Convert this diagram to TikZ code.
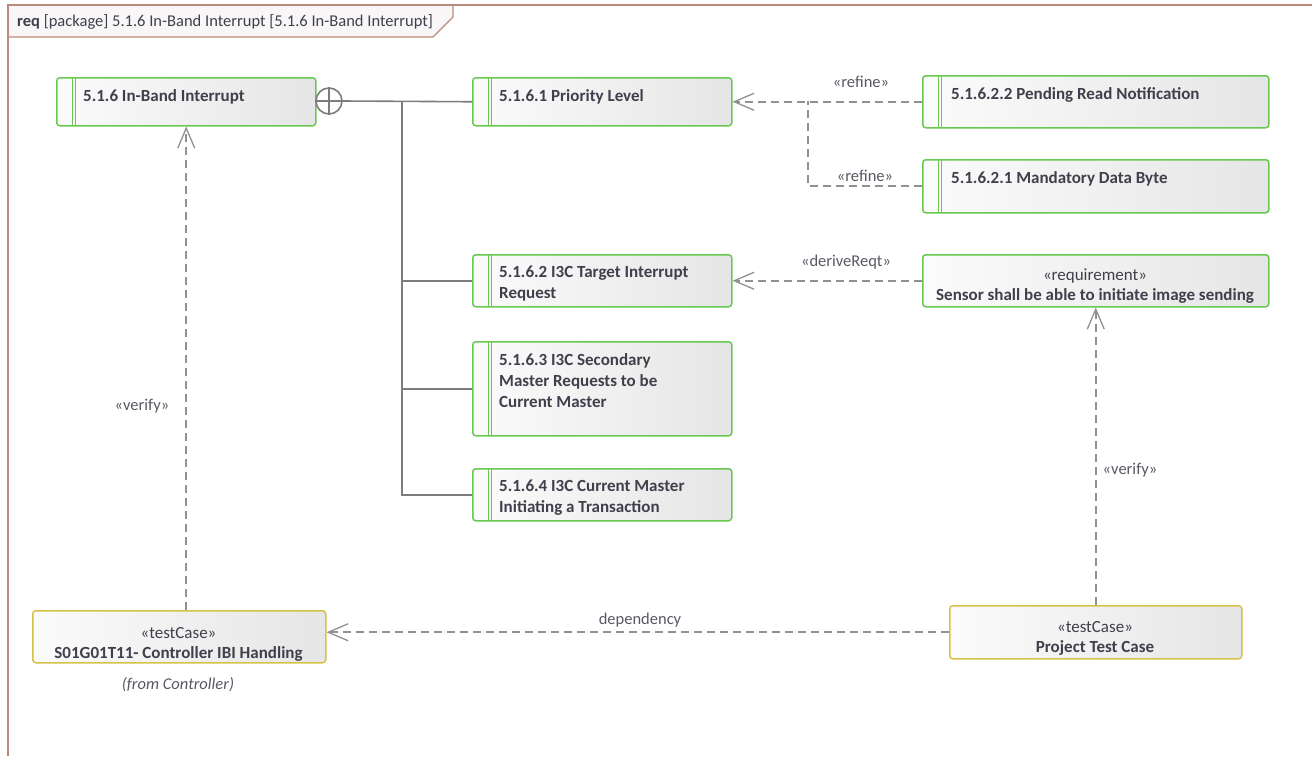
\documentclass[tikz,border=0pt]{standalone}
\usepackage{fontspec}
\setmainfont{Carlito}
\usetikzlibrary{arrows.meta,calc}

\definecolor{reqgreen}{RGB}{104,200,80}
\definecolor{tcyellow}{RGB}{214,194,72}
\definecolor{ink}{RGB}{64,64,76}
\definecolor{lbl}{RGB}{88,88,98}
\definecolor{wire}{RGB}{125,125,125}
\definecolor{dashc}{RGB}{145,145,145}
\definecolor{framec}{RGB}{188,138,122}
\definecolor{tabfill}{RGB}{248,246,246}

\tikzset{
  box/.style={draw, line width=1.5pt, rounded corners=3pt,
    left color=gray!3, right color=gray!20, inner sep=0pt, anchor=north west},
  reqbar/.style={path picture={
      \draw[reqgreen, line width=1.2pt]
        ([xshift=16pt]path picture bounding box.north west) --
        ([xshift=16pt]path picture bounding box.south west);
      \draw[reqgreen, line width=1.2pt]
        ([xshift=19pt]path picture bounding box.north west) --
        ([xshift=19pt]path picture bounding box.south west);}},
  reqbox/.style={box, draw=reqgreen, reqbar},
  plainreq/.style={box, draw=reqgreen},
  tcbox/.style={box, draw=tcyellow},
  % multi-line texts are placed by the baseline of their last line
  title/.style={anchor=base west, inner sep=0pt, align=left, text=ink,
    font=\fontsize{17}{21}\selectfont\bfseries},
  ctitle/.style={anchor=base, inner sep=0pt, align=center, text=ink,
    font=\fontsize{17}{20}\selectfont},
  lab/.style={inner sep=0pt, text=lbl, font=\fontsize{16.5}{20}\selectfont},
  comp/.style={draw=wire, line width=1.6pt},
  dashline/.style={draw=dashc, line width=1.6pt, dash pattern=on 8pt off 5pt},
  dep/.style={dashline, -{Straight Barb[length=20pt,width=17pt,line width=1.3pt]}},
}

\begin{document}
\begin{tikzpicture}[x=1pt,y=-1pt]
\useasboundingbox (0,0) rectangle (1312,756);

% diagram frame with its name tab
\draw[framec, line width=1.2pt, fill=tabfill]
  (8,5) -- (8,37) -- (433,37) -- (453,17) -- (453,5) -- cycle;
\draw[framec, line width=1.6pt] (8,756) -- (8,5) -- (1312,5);
\node[anchor=base west, inner sep=0pt, text=ink, font=\fontsize{16.5}{20}\selectfont]
  (hdr) at (17,26) {\textbf{req} [package] 5.1.6 In-Band Interrupt [5.1.6 In-Band Interrupt]};

% requirements
\node[reqbox, minimum width=259pt, minimum height=48pt] (n1) at (56,77) {};
\node[title] (t1) at (83,101) {5.1.6 In-Band Interrupt};

\node[reqbox, minimum width=259pt, minimum height=48pt] (n2) at (472,77) {};
\node[title] (t2) at (499,101) {5.1.6.1 Priority Level};

\node[reqbox, minimum width=346pt, minimum height=52pt] (n3) at (922,75) {};
\node[title] (t3) at (951,99) {5.1.6.2.2 Pending Read Notification};

\node[reqbox, minimum width=346pt, minimum height=53pt] (n4) at (922,159) {};
\node[title] (t4) at (951,183) {5.1.6.2.1 Mandatory Data Byte};

\node[reqbox, minimum width=259pt, minimum height=52pt] (n5) at (472,254) {};
\node[title] (t5) at (499,298) {5.1.6.2 I3C Target Interrupt\\Request};

\node[reqbox, minimum width=259pt, minimum height=94pt] (n6) at (472,341) {};
\node[title] (t6) at (499,407) {5.1.6.3 I3C Secondary\\Master Requests to be\\Current Master};

\node[reqbox, minimum width=259pt, minimum height=52pt] (n7) at (472,468) {};
\node[title] (t7) at (499,512) {5.1.6.4 I3C Current Master\\Initiating a Transaction};

\node[plainreq, minimum width=346pt, minimum height=52pt] (n8) at (922,254) {};
\node[ctitle] (t8) at (1095,300) {«requirement»\\\textbf{Sensor shall be able to initiate image sending}};

% test cases
\node[tcbox, minimum width=293pt, minimum height=52pt] (n9) at (32,610) {};
\node[ctitle] (t9) at (178.5,658) {«testCase»\\\textbf{S01G01T11- Controller IBI Handling}};
\node[lab, anchor=base, font=\fontsize{16.5}{20}\selectfont\itshape] (from) at (178,689) {(from Controller)};

\node[tcbox, minimum width=292pt, minimum height=53pt] (n10) at (949,605) {};
\node[ctitle] (t10) at (1095,652) {«testCase»\\\textbf{Project Test Case}};

% containment tree
\node[circle, draw=wire, line width=1.6pt, minimum size=26pt, inner sep=0pt] (cp) at (329,101) {};
\draw[comp] (cp.north) -- (cp.south) (cp.west) -- (cp.east);
\coordinate (jn) at (402,101);
\draw[comp] (cp.east) -- (n2.west);
\draw[comp] (jn) |- (n5.west);
\draw[comp] (jn) |- (n6.west);
\draw[comp] (jn) |- (n7.west);

% refine relations
\coordinate (jr) at (808,101);
\draw[dep] (n3.west) -- (n2.east);
\draw[dashline] (n4.west) -| (jr);
\node[lab] (l1) at (861,82) {«refine»};
\node[lab] (l2) at (865,176) {«refine»};

% derive relation
\draw[dep] (n8.west) -- (n5.east);
\node[lab] (l3) at (846,262) {«deriveReqt»};

% verify relations
\draw[dep] (n1.south |- n9.north) -- (n1.south);
\node[lab] (l4) at (142,406) {«verify»};
\draw[dep] (n10.north) -- (n8.south);
\node[lab] (l5) at (1130,470) {«verify»};

% dependency between test cases
\draw[dep] (n10.west) -- (n10.west -| n9.east);
\node[lab] (l6) at (640,620) {dependency};
\end{tikzpicture}
\end{document}
